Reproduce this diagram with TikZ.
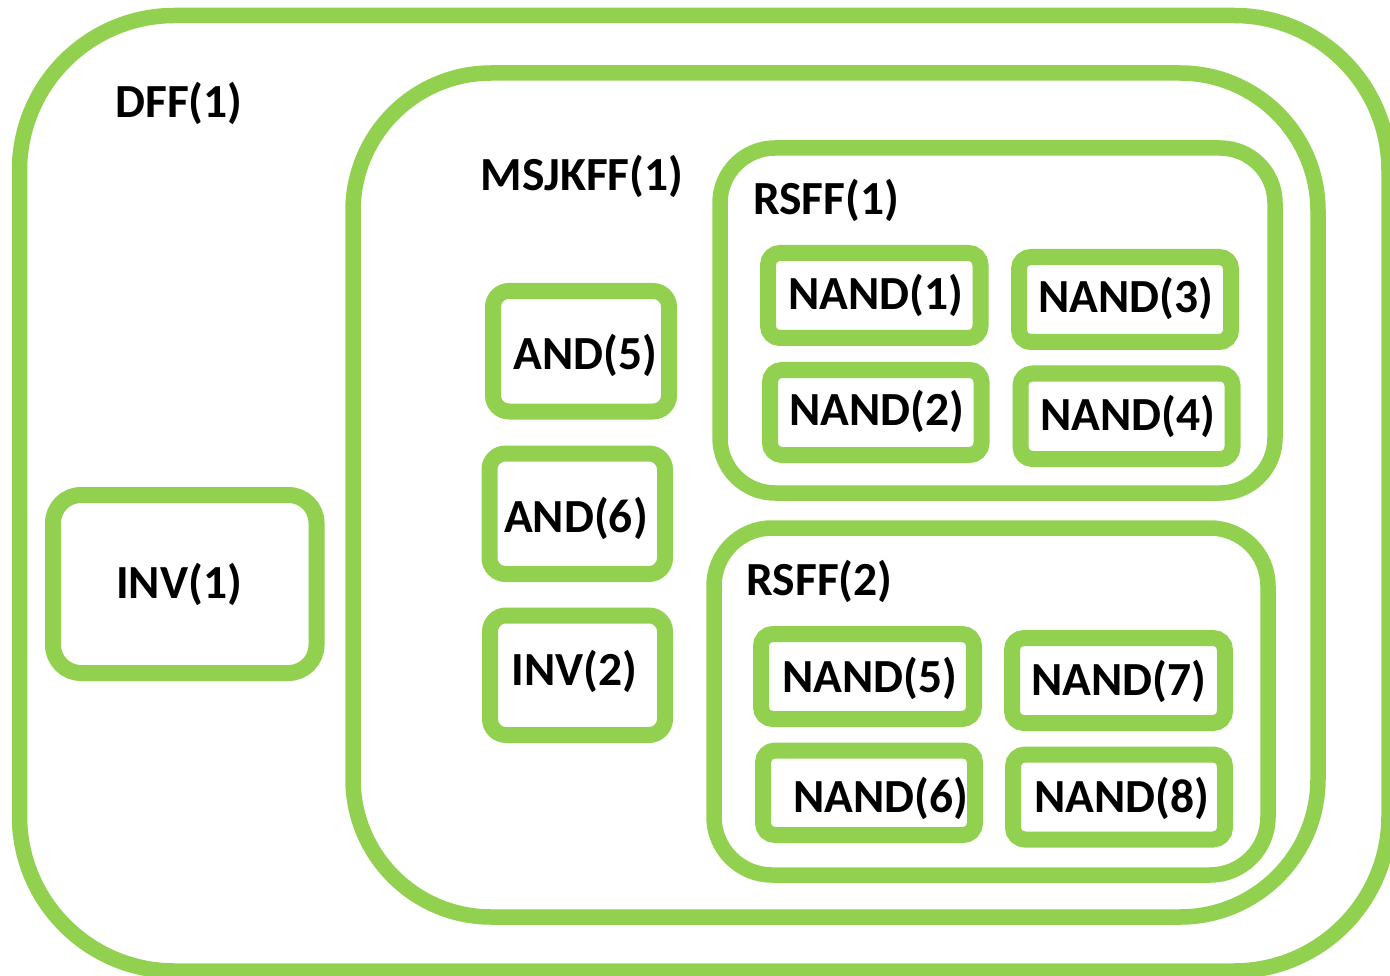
\documentclass[tikz,border=0pt]{standalone}
\usepackage{fontspec}
\setmainfont{Carlito}
\usetikzlibrary{fit}
\definecolor{lg}{HTML}{92D050}
\tikzset{
  container/.style={draw=lg, line width=15.5pt, rounded corners=#1, inner sep=0pt, outer sep=0pt},
  gate/.style={draw=lg, line width=16pt, rounded corners=#1, inner sep=0pt, outer sep=0pt},
  gate/.default=12pt,
  lbl/.style={font=\bfseries\fontsize{47.5}{52}\selectfont, anchor=base, inner sep=0pt, text=black}
}
\begin{document}
\begin{tikzpicture}[x=1pt, y=-1pt]
\useasboundingbox (0,0) rectangle (1390,976);
\clip (0,0) rectangle (1390,976);
\fill[white] (0,0) rectangle (1390,976);
% containers
\node[container=155pt, fit={(19.5,15.5)(1389,971)}] (dff) {};
\node[container=138pt, fit={(353,73)(1318,917)}] (msjkff) {};
\node[container=55pt, fit={(720,148)(1275,493)}] (rsff1) {};
\node[container=58pt, fit={(714,528)(1268,875)}] (rsff2) {};
% gates
\node[gate=28pt, fit={(53,495)(316.5,673)}] (inv1) {};
\node[gate=16pt, fit={(493,291)(669,411.5)}] (and5) {};
\node[gate=16pt, fit={(489.5,453.5)(665,574)}] (and6) {};
\node[gate=16pt, fit={(490,615.5)(665,735)}] (inv2) {};
\node[gate, fit={(768,253)(980.5,338)}] (nand1) {};
\node[gate, fit={(770,370)(981.5,455)}] (nand2) {};
\node[gate, fit={(1019,257)(1231,342)}] (nand3) {};
\node[gate, fit={(1020.5,373.5)(1232.5,459)}] (nand4) {};
\node[gate, fit={(761,634)(974,719)}] (nand5) {};
\node[gate, fit={(763,750.5)(975,835)}] (nand6) {};
\node[gate, fit={(1012,638)(1225,723)}] (nand7) {};
\node[gate, fit={(1013,754.5)(1225,839.5)}] (nand8) {};
% labels
\node[lbl] (dfft) at (179,118) {DFF(1)};
\node[lbl] (msjkfft) at (582,191) {MSJKFF(1)};
\node[lbl] (rsff1t) at (826,215) {RSFF(1)};
\node[lbl] (rsff2t) at (819.5,595) {RSFF(2)};
\node[lbl] (inv1t) at (179,598) {INV(1)};
\node[lbl] (and5t) at (585.5,370) {AND(5)};
\node[lbl] (and6t) at (576,532) {AND(6)};
\node[lbl] (inv2t) at (574.5,685) {INV(2)};
\node[lbl] (nand1t) at (875.5,310) {NAND(1)};
\node[lbl] (nand2t) at (877,425) {NAND(2)};
\node[lbl] (nand3t) at (1126,313) {NAND(3)};
\node[lbl] (nand4t) at (1127.5,430) {NAND(4)};
\node[lbl] (nand5t) at (869.5,692) {NAND(5)};
\node[lbl] (nand6t) at (881,812) {NAND(6)};
\node[lbl] (nand7t) at (1119,695) {NAND(7)};
\node[lbl] (nand8t) at (1121.5,812) {NAND(8)};
\end{tikzpicture}
\end{document}
